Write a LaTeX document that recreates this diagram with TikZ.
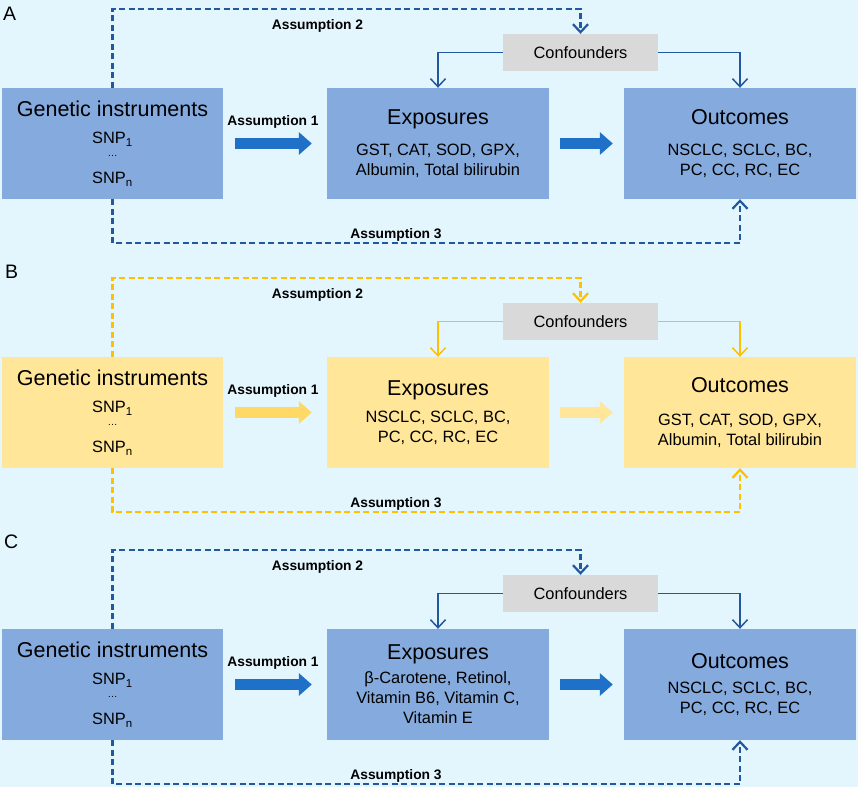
\documentclass[tikz,border=0pt]{standalone}
\usepackage{fontspec}
\setmainfont{Liberation Sans}
\usetikzlibrary{positioning, arrows.meta, calc}

\definecolor{bgcyan}{RGB}{227,245,253}
\definecolor{boxblue}{RGB}{133,170,222}
\definecolor{boxyellow}{RGB}{255,230,153}
\definecolor{confgray}{RGB}{217,217,217}
\definecolor{lineblue}{RGB}{36,88,158}
\definecolor{arrowblue}{RGB}{30,112,200}
\definecolor{lineyellow}{RGB}{255,192,0}
\definecolor{arrowyellow}{RGB}{255,217,102}
\definecolor{arrowpale}{RGB}{255,230,153}

\newcommand{\boxhead}[1]{{\fontsize{21.5}{24}\selectfont #1}}
\newcommand{\snplist}{\boxhead{Genetic instruments}\\[7.2pt]SNP\textsubscript{1}\\[-7pt]{\fontsize{10}{10}\selectfont …}\\[7pt]SNP\textsubscript{n}}

\begin{document}
\begin{tikzpicture}[
                x=1pt, y=-1pt,
                >={Straight Barb[length=8pt,width=15pt]},
                box/.style={rectangle, inner sep=0pt, minimum height=111pt, align=center, font=\fontsize{16.4}{20}\selectfont},
                conf/.style={rectangle, fill=confgray, inner sep=0pt, minimum width=155pt, minimum height=37pt, font=\fontsize{16.4}{20}\selectfont},
                assume/.style={anchor=base, inner sep=0pt, font=\bfseries\fontsize{13.8}{16}\selectfont},
                panel/.style={anchor=base west, inner sep=0pt, font=\fontsize{19.5}{22}\selectfont},
                dashlink/.style={dash pattern=on 6pt off 3.5pt, line width=2.2pt, ->},
                conflink/.style={line width=1.5pt, ->},
                fat/.style={line width=10.5pt, -{Triangle[length=13pt,width=22pt]}},
            ]
                \fill[bgcyan] (0,0) rectangle (858,787);

                % Panel A
                \node[panel] (A-tag) at (3,20) {A};
                \node[box, fill=boxblue, minimum width=221pt] (A-gen) at (112.5,143.5) {\snplist};
                \node[box, fill=boxblue, minimum width=222pt] (A-exp) at (438,143.5)
                    {\boxhead{Exposures}\\[11.2pt]GST, CAT, SOD, GPX,\\Albumin, Total bilirubin};
                \node[box, fill=boxblue, minimum width=232pt] (A-out) at (740,143.5)
                    {\boxhead{Outcomes}\\[10.2pt]NSCLC, SCLC, BC,\\PC, CC, RC, EC};
                \node[conf] (A-conf) at (580.5,52.5) {Confounders};

                \draw[fat, arrowblue, shorten <=12pt, shorten >=15pt] (A-gen) -- (A-exp);
                \draw[fat, arrowblue, shorten <=11pt, shorten >=11pt] (A-exp) -- (A-out);
                \draw[conflink, lineblue] (A-conf.west) -| (A-exp.north);
                \draw[conflink, lineblue] (A-conf.east) -| (A-out.north);
                \draw[dashlink, lineblue] (A-gen.north) -- ++(0,-79) -| (A-conf.north);
                \draw[dashlink, lineblue] (A-gen.south) -- ++(0,44) -| (A-out.south);

                \node[assume] (A-a1) at (273,125) {Assumption 1};
                \node[assume] (A-a2) at (317.5,29) {Assumption 2};
                \node[assume] (A-a3) at (396,238) {Assumption 3};

                % Panel B
                \node[panel] (B-tag) at (5,278) {B};
                \node[box, fill=boxyellow, minimum width=221pt] (B-gen) at (112.5,412.5) {\snplist};
                \node[box, fill=boxyellow, minimum width=222pt] (B-exp) at (438,412.5)
                    {\boxhead{Exposures}\\[7.2pt]NSCLC, SCLC, BC,\\PC, CC, RC, EC};
                \node[box, fill=boxyellow, minimum width=232pt] (B-out) at (740,412.5)
                    {\boxhead{Outcomes}\\[13.2pt]GST, CAT, SOD, GPX,\\Albumin, Total bilirubin};
                \node[conf] (B-conf) at (580.5,321.5) {Confounders};

                \draw[fat, arrowyellow, shorten <=12pt, shorten >=15pt] (B-gen) -- (B-exp);
                \draw[fat, arrowpale, shorten <=11pt, shorten >=11pt] (B-exp) -- (B-out);
                \draw[conflink, lineyellow] (B-conf.west) -| (B-exp.north);
                \draw[conflink, lineyellow] (B-conf.east) -| (B-out.north);
                \draw[dashlink, lineyellow] (B-gen.north) -- ++(0,-79) -| (B-conf.north);
                \draw[dashlink, lineyellow] (B-gen.south) -- ++(0,44) -| (B-out.south);

                \node[assume] (B-a1) at (273,394) {Assumption 1};
                \node[assume] (B-a2) at (317.5,298) {Assumption 2};
                \node[assume] (B-a3) at (396,507) {Assumption 3};

                % Panel C
                \node[panel] (C-tag) at (4,548) {C};
                \node[box, fill=boxblue, minimum width=221pt] (C-gen) at (112.5,684.5) {\snplist};
                \node[box, fill=boxblue, minimum width=222pt] (C-exp) at (438,684.5)
                    {\boxhead{Exposures}\\[4.2pt]β-Carotene, Retinol,\\Vitamin B6, Vitamin C,\\Vitamin E};
                \node[box, fill=boxblue, minimum width=232pt] (C-out) at (740,684.5)
                    {\boxhead{Outcomes}\\[5.2pt]NSCLC, SCLC, BC,\\PC, CC, RC, EC};
                \node[conf] (C-conf) at (580.5,593.5) {Confounders};

                \draw[fat, arrowblue, shorten <=12pt, shorten >=15pt] (C-gen) -- (C-exp);
                \draw[fat, arrowblue, shorten <=11pt, shorten >=11pt] (C-exp) -- (C-out);
                \draw[conflink, lineblue] (C-conf.west) -| (C-exp.north);
                \draw[conflink, lineblue] (C-conf.east) -| (C-out.north);
                \draw[dashlink, lineblue] (C-gen.north) -- ++(0,-79) -| (C-conf.north);
                \draw[dashlink, lineblue] (C-gen.south) -- ++(0,44) -| (C-out.south);

                \node[assume] (C-a1) at (273,666) {Assumption 1};
                \node[assume] (C-a2) at (317.5,570) {Assumption 2};
                \node[assume] (C-a3) at (396,779) {Assumption 3};
            \end{tikzpicture}
\end{document}
